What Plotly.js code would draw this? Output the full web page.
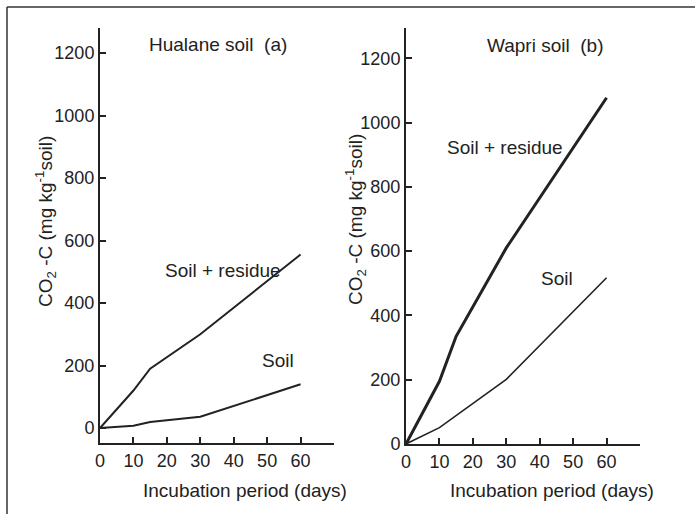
<!DOCTYPE html>
<html>
<head>
<meta charset="utf-8">
<script src="https://cdn.plot.ly/plotly-3.0.1.min.js"></script>
<style>html,body{margin:0;padding:0;background:#fff;}#chart{width:695px;height:514px;}</style>
</head>
<body>
<div id="chart"></div>
<script>
// ---- data ----
const hualaneResidueDays = [0, 10, 15, 30, 60];
const hualaneResidueCO2  = [0, 120, 190, 300, 555];
const hualaneSoilDays    = [0, 10, 15, 30, 60];
const hualaneSoilCO2     = [0, 7, 19, 36, 140];

const wapriResidueDays = [0, 10, 15, 30, 60];
const wapriResidueCO2  = [0, 195, 335, 610, 1077];
const wapriSoilDays    = [0, 10, 30, 60];
const wapriSoilCO2     = [0, 51, 201, 517];

const xTickVals = [0, 10, 20, 30, 40, 50, 60];
const yTickVals = [0, 200, 400, 600, 800, 1000, 1200];
const panelTitles = ["Hualane soil  (a)", "Wapri soil  (b)"];
const seriesLabels = ["Soil + residue", "Soil"];
const xTitle = "Incubation period (days)";
const yTitle = "CO<sub>2</sub> -C (mg kg<sup>-1</sup>soil)";

// ---- layout helpers ----
const W = 695, H = 514;
const px = x => x / W;
const py = y => 1 - y / H;
const ink = "#222";
const font = "Arial, 'Liberation Sans', sans-serif";

const traces = [
  {x: hualaneResidueDays, y: hualaneResidueCO2, xaxis: "x", yaxis: "y", mode: "lines", line: {color: ink, width: 2}},
  {x: hualaneSoilDays, y: hualaneSoilCO2, xaxis: "x", yaxis: "y", mode: "lines", line: {color: ink, width: 2}},
  {x: wapriResidueDays, y: wapriResidueCO2, xaxis: "x2", yaxis: "y2", mode: "lines", line: {color: ink, width: 3}},
  {x: wapriSoilDays, y: wapriSoilCO2, xaxis: "x2", yaxis: "y2", mode: "lines", line: {color: ink, width: 1.6}}
];

const axisCommon = {
  showgrid: false, zeroline: false, showline: true, linecolor: ink, linewidth: 2,
  ticks: "inside", ticklen: 6, tickwidth: 2, tickcolor: ink,
  tickfont: {family: font, size: 18, color: ink}, fixedrange: true
};

function ann(text, x, y, extra) {
  return Object.assign({text: text, x: px(x), y: py(y), xref: "paper", yref: "paper",
    showarrow: false, xanchor: "center", yanchor: "middle",
    font: {family: font, size: 19, color: ink}}, extra || {});
}

const layout = {
  width: W, height: H,
  margin: {l: 0, r: 0, t: 0, b: 0},
  paper_bgcolor: "#fff", plot_bgcolor: "rgba(0,0,0,0)",
  showlegend: false,
  xaxis: Object.assign({}, axisCommon, {domain: [px(100), px(334)], range: [0, 70], tickvals: xTickVals, anchor: "y"}),
  yaxis: Object.assign({}, axisCommon, {domain: [py(443), py(28)], range: [-48, 1280], tickvals: yTickVals, anchor: "x"}),
  xaxis2: Object.assign({}, axisCommon, {domain: [px(406), px(640)], range: [0, 70], tickvals: xTickVals, anchor: "y2"}),
  yaxis2: Object.assign({}, axisCommon, {domain: [py(444), py(28)], range: [0, 1294], tickvals: yTickVals, anchor: "x2"}),
  annotations: [
    ann(panelTitles[0], 218, 44),
    ann(panelTitles[1], 545, 45),
    ann(seriesLabels[0], 223, 270),
    ann(seriesLabels[1], 278, 360),
    ann(seriesLabels[0], 505, 147),
    ann(seriesLabels[1], 557, 278),
    ann(xTitle, 245, 490),
    ann(xTitle, 552, 490),
    ann(yTitle, 45, 222, {textangle: -90}),
    ann(yTitle, 355, 220, {textangle: -90})
  ],
  shapes: [
    {type: "line", xref: "paper", yref: "paper", x0: px(7), x1: 1, y0: py(7), y1: py(7), line: {color: "#333", width: 1.5}},
    {type: "line", xref: "paper", yref: "paper", x0: px(7), x1: px(7), y0: py(7), y1: 0, line: {color: "#333", width: 1.5}}
  ]
};

Plotly.newPlot("chart", traces, layout, {staticPlot: true, displayModeBar: false});
</script>
</body>
</html>
